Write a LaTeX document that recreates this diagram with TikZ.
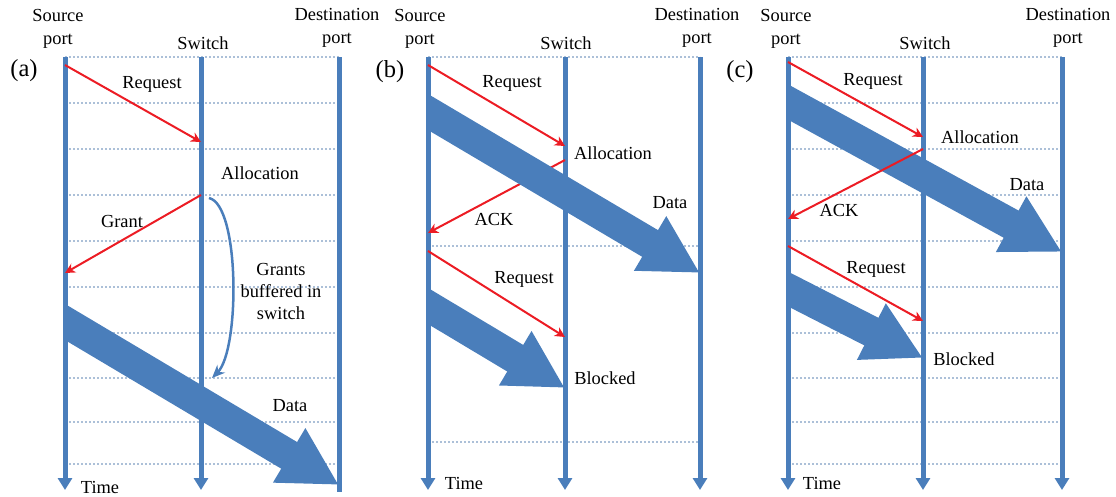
\documentclass[tikz,border=0pt]{standalone}
\usepackage{fontspec}
\setmainfont{Liberation Serif}
\usetikzlibrary{arrows.meta}
\definecolor{laneblue}{RGB}{74,126,187}
\definecolor{msgred}{RGB}{236,28,36}
\definecolor{rowgray}{RGB}{172,192,216}
\tikzset{%
  lane/.style={draw=laneblue,line width=5pt},
  tlane/.style={lane,-{Triangle[width=14pt,length=12pt]}},
  dotrow/.style={draw=rowgray,line width=1.1pt,dash pattern=on 2pt off 2pt},
  msg/.style={draw=msgred,line width=2pt,-{Stealth[length=10pt,width=10pt,inset=3pt]}},
  bulk/.style={draw=laneblue,line width=31pt,shorten <=-20pt,-{Triangle[width=59pt,length=58pt]}},
  buffarrow/.style={draw=laneblue,line width=2.5pt,-{Stealth[length=13pt,width=11pt]}},
  lbl/.style={inner sep=0,font=\fontsize{18.4}{22}\selectfont},
  hdr/.style={lbl,align=center,font=\fontsize{18.4}{23.5}\selectfont},
  plabel/.style={inner sep=0,font=\fontsize{24.5}{28}\selectfont}
}
\begin{document}
\begin{tikzpicture}[x=1pt,y=-1pt]
  \useasboundingbox (0,0) rectangle (1116,496);
  \foreach \y in {57,103,149,195,241,287,333,378,422,464}
    \draw[dotrow] (65,\y) -- (339,\y);
  \path (65,57) coordinate (as0) (65,490) coordinate (as1)
        (201,57) coordinate (aw0) (201,490) coordinate (aw1)
        (339,57) coordinate (ad0) (339,492) coordinate (ad1);
  \draw[tlane] (as0) -- (as1);
  \draw[tlane] (aw0) -- (aw1);
  \draw[lane] (ad0) -- (ad1);
  \node[hdr] (asrc) at (58,29) {Source\\port};
  \node[hdr] (asw) at (203,43) {Switch};
  \node[hdr] (adst) at (337,28) {Destination\\port};
  \node[plabel] (apan) at (24,71) {(a)};
  \path (65,322) coordinate (ax0) (339,485) coordinate (ax1);
  \begin{scope}
    \clip (65,0) rectangle (360,496);
    \draw[bulk] (ax0) -- (ax1);
  \end{scope}
  \path (65,65) coordinate (ar0) (201,142) coordinate (ar1)
        (201,195) coordinate (ag0) (65,273) coordinate (ag1)
        (209,198) coordinate (ab0) (212,378) coordinate (ab1);
  \draw[msg] (ar0) -- (ar1);
  \draw[msg] (ag0) -- (ag1);
  \draw[buffarrow] (ab0) .. controls (240,205) and (240,350) .. (ab1);
  \node[lbl] (arq) at (152,84) {Request};
  \node[lbl] (aal) at (260,173) {Allocation};
  \node[lbl] (agr) at (122,221) {Grant};
  \node[lbl,align=center] (abf) at (281,291) {Grants\\buffered in\\switch};
  \node[lbl] (adt) at (290,406) {Data};
  \node[lbl] (atm) at (100,487) {Time};

  \foreach \y in {57,246,442}
    \draw[dotrow] (428,\y) -- (700,\y);
  \path (428,57) coordinate (bs0) (428,490) coordinate (bs1)
        (565,57) coordinate (bw0) (565,490) coordinate (bw1)
        (700,57) coordinate (bd0) (700,490) coordinate (bd1);
  \draw[tlane] (bs0) -- (bs1);
  \draw[tlane] (bw0) -- (bw1);
  \draw[tlane] (bd0) -- (bd1);
  \node[hdr] (bsrc) at (420,29) {Source\\port};
  \node[hdr] (bsw) at (566,43) {Switch};
  \node[hdr] (bdst) at (697,28) {Destination\\port};
  \node[plabel] (bpan) at (390,72) {(b)};
  \path (428,65) coordinate (br0) (565,146) coordinate (br1)
        (565,160) coordinate (bk0) (428,233) coordinate (bk1)
        (428,251) coordinate (bq0) (565,337) coordinate (bq1)
        (428,112) coordinate (bx0) (700,273) coordinate (bx1)
        (428,306) coordinate (by0) (565,388) coordinate (by1);
  \draw[msg] (bk0) -- (bk1);
  \begin{scope}
    \clip (428,0) rectangle (720,496);
    \draw[bulk] (bx0) -- (bx1);
    \draw[bulk] (by0) -- (by1);
  \end{scope}
  \draw[msg] (br0) -- (br1);
  \draw[msg] (bq0) -- (bq1);
  \node[lbl] (brq) at (512,83) {Request};
  \node[lbl] (bal) at (613,153) {Allocation};
  \node[lbl] (back) at (494,219) {ACK};
  \node[lbl] (bdt) at (670,203) {Data};
  \node[lbl] (brq2) at (524,279) {Request};
  \node[lbl] (bbl) at (605,378) {Blocked};
  \node[lbl] (btm) at (464,483) {Time};

  \foreach \y in {57,103,149,195,241,287,333,378,422,464}
    \draw[dotrow] (788,\y) -- (1062,\y);
  \path (788,57) coordinate (cs0) (788,490) coordinate (cs1)
        (923,57) coordinate (cw0) (923,490) coordinate (cw1)
        (1062,57) coordinate (cd0) (1062,490) coordinate (cd1);
  \draw[tlane] (cs0) -- (cs1);
  \draw[tlane] (cw0) -- (cw1);
  \draw[tlane] (cd0) -- (cd1);
  \node[hdr] (csrc) at (786,29) {Source\\port};
  \node[hdr] (csw) at (925,43) {Switch};
  \node[hdr] (cdst) at (1068,28) {Destination\\port};
  \node[plabel] (cpan) at (740,72) {(c)};
  \path (788,62) coordinate (cr0) (923,137) coordinate (cr1)
        (923,149) coordinate (ck0) (788,219) coordinate (ck1)
        (788,246) coordinate (cq0) (923,321) coordinate (cq1)
        (788,102) coordinate (cx0) (1062,252) coordinate (cx1)
        (788,289) coordinate (cy0) (923,358) coordinate (cy1);
  \begin{scope}
    \clip (788,0) rectangle (1080,496);
    \draw[bulk] (cx0) -- (cx1);
    \draw[bulk] (cy0) -- (cy1);
  \end{scope}
  \draw[msg] (cr0) -- (cr1);
  \draw[msg] (ck0) -- (ck1);
  \draw[msg] (cq0) -- (cq1);
  \node[lbl] (crq) at (873,81) {Request};
  \node[lbl] (cal) at (980,137) {Allocation};
  \node[lbl] (cack) at (839,210) {ACK};
  \node[lbl] (cdt) at (1027,185) {Data};
  \node[lbl] (crq2) at (876,269) {Request};
  \node[lbl] (cbl) at (964,359) {Blocked};
  \node[lbl] (ctm) at (822,483) {Time};
\end{tikzpicture}
\end{document}
